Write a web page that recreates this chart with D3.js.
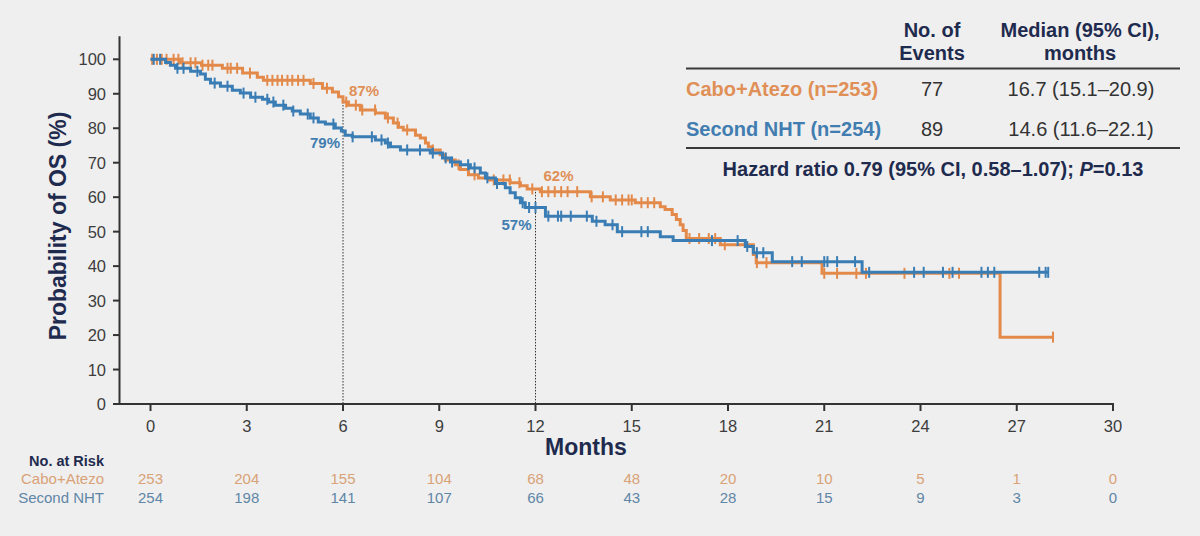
<!DOCTYPE html>
<html><head><meta charset="utf-8">
<script src="https://cdn.jsdelivr.net/npm/d3@7"></script>
<style>
body{margin:0;background:#efefef;}
svg{display:block;font-family:"Liberation Sans",Arial,sans-serif;}
</style>
</head><body>
<svg id="chart" width="1200" height="536"></svg>
<script>
// ---------- data ----------
const monthTicks = [0,3,6,9,12,15,18,21,24,27,30];
const pctTicks = [0,10,20,30,40,50,60,70,80,90,100];

const caboTime = [0,0.93,1.59,2.24,2.87,3.33,3.52,4.98,5.36,5.67,5.86,6.0,6.17,6.54,7.01,7.32,7.57,7.73,7.88,8.26,8.41,8.57,8.66,8.79,9.03,9.19,9.5,9.66,9.91,10.22,10.53,11.21,11.53,11.74,12.15,13.71,14.33,15.11,15.89,16.04,16.26,16.39,16.51,16.6,16.7,17.76,18.79,18.88,20.93,26.48,28.13];
const caboSurv = [100,99,98.3,97.4,96.0,94.8,93.9,93.0,91.6,90.5,89.1,87.6,86.7,85.3,84.4,83.0,81.5,80.3,79.5,78.0,77.2,75.7,74.6,73.7,72.3,70.8,69.4,68.0,66.5,65.6,65.0,64.2,63.3,62.4,61.6,60.1,59.2,58.4,57.2,56.4,55.0,53.5,52.0,50.3,48.0,46.2,43.4,41.0,37.9,19.4,19.4];
const caboCensor = [0.05,0.2,0.35,0.5,0.72,0.87,1.0,1.25,1.4,1.62,1.8,1.93,2.4,2.5,2.7,3.1,3.64,3.8,3.96,4.1,4.27,4.42,4.6,4.77,5.08,5.5,6.1,6.4,6.6,7.0,7.4,7.7,8.0,8.8,9.6,10.1,10.7,11.0,11.2,11.5,11.9,12.2,12.4,12.6,12.8,13.0,13.3,13.75,14.1,14.5,14.7,14.9,15.0,15.3,15.5,15.7,16.8,17.1,17.4,17.6,17.9,18.9,19.2,21.0,21.4,22.0,22.3,23.5,24.9,25.2,28.13];

const nhtTime = [0,0.47,0.62,0.78,1.25,1.56,1.71,1.87,2.18,2.55,2.8,3.12,3.49,3.68,3.89,4.21,4.42,4.67,4.98,5.23,5.45,5.76,5.95,6.07,6.29,7.01,7.32,7.48,7.79,8.72,9.1,9.35,9.66,9.97,10.28,10.44,10.75,11.06,11.21,11.37,11.53,11.68,12.31,13.77,14.17,14.55,15.89,16.29,18.54,18.79,19.38,22.18,27.98];
const nhtSurv = [100,99.1,98.3,97.4,96.5,95.7,94.2,93.1,92.2,91.0,90.2,89.0,88.4,87.6,86.7,85.8,85.0,84.1,83.0,81.8,81.2,80.1,79.2,78.0,77.5,76.6,75.7,74.6,73.7,72.8,71.4,70.2,69.4,68.5,67.0,65.6,64.0,62.7,61.3,59.8,58.4,57.0,54.5,53.0,52.0,50.0,48.5,47.4,45.7,43.9,41.3,38.2,38.2];
const nhtCensor = [0.1,0.3,0.84,1.03,1.46,2.0,2.4,2.9,3.27,3.64,3.83,4.14,4.45,4.9,5.08,5.7,6.3,6.9,7.2,7.4,8.0,8.4,8.8,9.2,9.4,9.9,10.1,10.5,10.8,11.6,11.8,12.0,12.4,12.7,12.8,13.1,13.6,13.9,14.4,14.7,15.3,15.5,17.5,18.3,18.6,18.9,19.1,20.0,20.3,21.0,21.1,21.4,21.96,22.4,23.8,24.1,24.7,25.0,25.9,26.1,26.3,27.7,27.9,27.98];

const riskCabo = [253,204,155,104,68,48,20,10,5,1,0];
const riskNht = [254,198,141,107,66,43,28,15,9,3,0];

const landmarkMonths = [6,12];
const caboLandmarkLabels = ["87%","62%"];
const nhtLandmarkLabels = ["79%","57%"];

const groupNames = ["Cabo+Atezo","Second NHT"];
const legendRows = ["Cabo+Atezo (n=253)","Second NHT (n=254)"];
const legendEvents = ["77","89"];
const legendMedians = ["16.7 (15.1\u201320.9)","14.6 (11.6\u201322.1)"];

// ---------- style ----------
const ORANGE = "#E38A4B", BLUE = "#3A7DB4";
const ORANGE_T = "#E08F57", BLUE_T = "#417DB0";
const ORANGE_R = "#D9A277", BLUE_R = "#5F86A7";
const NAVY = "#1F2B4E", AXIS = "#333333", TICKTXT = "#3d3d3d";

const svg = d3.select("#chart");
const x = d3.scaleLinear().domain([0,30]).range([150.5,1113]);
const y = d3.scaleLinear().domain([0,100]).range([404,59.3]);

function survAt(times, surv, t){
  const i = d3.bisectRight(times, t) - 1;
  return surv[Math.max(0,i)];
}

// axes lines
svg.append("line").attr("x1",119.5).attr("x2",119.5).attr("y1",y(0)+1).attr("y2",y(106.7))
  .attr("stroke",AXIS).attr("stroke-width",2);
svg.append("line").attr("x1",113).attr("x2",x(30)+1).attr("y1",y(0)).attr("y2",y(0))
  .attr("stroke",AXIS).attr("stroke-width",2);

// y ticks
const yAxisG = svg.append("g");
yAxisG.selectAll("line").data(pctTicks).join("line")
  .attr("x1",113).attr("x2",119.5).attr("y1",d=>y(d)).attr("y2",d=>y(d))
  .attr("stroke",AXIS).attr("stroke-width",2);
yAxisG.selectAll("text").data(pctTicks).join("text")
  .attr("x",106).attr("y",d=>y(d)+6).attr("text-anchor","end")
  .attr("font-size",16.5).attr("fill",TICKTXT).text(d=>d);

// x ticks
const xAxisG = svg.append("g");
xAxisG.selectAll("line").data(monthTicks).join("line")
  .attr("x1",d=>x(d)).attr("x2",d=>x(d)).attr("y1",y(0)).attr("y2",y(0)+7)
  .attr("stroke",AXIS).attr("stroke-width",2);
xAxisG.selectAll("text").data(monthTicks).join("text")
  .attr("x",d=>x(d)).attr("y",432).attr("text-anchor","middle")
  .attr("font-size",16.5).attr("fill",TICKTXT).text(d=>d);

// axis titles
svg.append("text").attr("x",586).attr("y",455).attr("text-anchor","middle")
  .attr("font-size",23).attr("font-weight","bold").attr("fill",NAVY).text("Months");
svg.append("text").attr("transform","translate(66,226) rotate(-90)").attr("text-anchor","middle")
  .attr("font-size",23).attr("font-weight","bold").attr("fill",NAVY).text("Probability of OS (%)");

// landmark dotted lines
landmarkMonths.forEach(m=>{
  const top = Math.max(survAt(caboTime,caboSurv,m), survAt(nhtTime,nhtSurv,m));
  svg.append("line").attr("x1",x(m)).attr("x2",x(m)).attr("y1",y(top)).attr("y2",y(0))
    .attr("stroke","#333").attr("stroke-width",1).attr("stroke-dasharray","1.5,1.5");
});

// curves
const line = d3.line().x(d=>x(d[0])).y(d=>y(d[1])).curve(d3.curveStepAfter);
function drawCurve(times, surv, censor, color){
  svg.append("path").datum(times.map((t,i)=>[t,surv[i]]))
    .attr("d",line).attr("fill","none").attr("stroke",color).attr("stroke-width",3)
    .attr("stroke-linejoin","miter");
  svg.append("g").selectAll("line").data(censor).join("line")
    .attr("x1",d=>x(d)).attr("x2",d=>x(d))
    .attr("y1",d=>y(survAt(times,surv,d))-5.5).attr("y2",d=>y(survAt(times,surv,d))+5.5)
    .attr("stroke",color).attr("stroke-width",2);
}
drawCurve(caboTime,caboSurv,caboCensor,ORANGE);
drawCurve(nhtTime,nhtSurv,nhtCensor,BLUE);

// landmark labels
const caboOff = [[6,-12],[8,-13]];
const nhtOff = [[-3,12],[-4,17]];
landmarkMonths.forEach((m,i)=>{
  svg.append("text").attr("x",x(m)+caboOff[i][0]).attr("y",y(survAt(caboTime,caboSurv,m))+caboOff[i][1]+5.5)
    .attr("font-size",15).attr("font-weight","bold").attr("fill",ORANGE_T).text(caboLandmarkLabels[i]);
  svg.append("text").attr("x",x(m)+nhtOff[i][0]).attr("y",y(survAt(nhtTime,nhtSurv,m))+nhtOff[i][1]+5.5)
    .attr("text-anchor","end")
    .attr("font-size",15).attr("font-weight","bold").attr("fill",BLUE_T).text(nhtLandmarkLabels[i]);
});

// risk table
svg.append("text").attr("x",104).attr("y",465.5).attr("text-anchor","end")
  .attr("font-size",14.5).attr("font-weight","bold").attr("fill",NAVY).text("No. at Risk");
[[riskCabo,ORANGE_R,483.5],[riskNht,BLUE_R,502.5]].forEach(([arr,col,yy],gi)=>{
  svg.append("text").attr("x",104).attr("y",yy).attr("text-anchor","end")
    .attr("font-size",15).attr("fill",col).text(groupNames[gi]);
  svg.append("g").selectAll("text").data(arr).join("text")
    .attr("x",(d,i)=>x(monthTicks[i])).attr("y",yy).attr("text-anchor","middle")
    .attr("font-size",15).attr("fill",col).text(d=>d);
});

// legend table
const lg = svg.append("g").attr("font-size",20);
lg.append("text").attr("x",932).attr("y",37).attr("text-anchor","middle").attr("font-weight","bold").attr("fill",NAVY).text("No. of");
lg.append("text").attr("x",932).attr("y",60).attr("text-anchor","middle").attr("font-weight","bold").attr("fill",NAVY).text("Events");
lg.append("text").attr("x",1080).attr("y",37).attr("text-anchor","middle").attr("font-weight","bold").attr("fill",NAVY).text("Median (95% CI),");
lg.append("text").attr("x",1080).attr("y",60).attr("text-anchor","middle").attr("font-weight","bold").attr("fill",NAVY).text("months");
lg.append("line").attr("x1",686).attr("x2",1180).attr("y1",68.5).attr("y2",68.5).attr("stroke","#3a3a3a").attr("stroke-width",2);
[[ORANGE_T,96],[BLUE_T,136]].forEach(([col,yy],i)=>{
  lg.append("text").attr("x",686).attr("y",yy).attr("font-weight","bold").attr("fill",col).text(legendRows[i]);
  lg.append("text").attr("x",932).attr("y",yy).attr("text-anchor","middle").attr("fill","#333").text(legendEvents[i]);
  lg.append("text").attr("x",1081).attr("y",yy).attr("text-anchor","middle").attr("fill","#333").text(legendMedians[i]);
});
lg.append("line").attr("x1",686).attr("x2",1180).attr("y1",148).attr("y2",148).attr("stroke","#3a3a3a").attr("stroke-width",2);
const hr = lg.append("text").attr("x",933).attr("y",176).attr("text-anchor","middle").attr("font-weight","bold").attr("fill",NAVY);
hr.append("tspan").text("Hazard ratio 0.79 (95% CI, 0.58\u20131.07); ");
hr.append("tspan").attr("font-style","italic").text("P");
hr.append("tspan").text("=0.13");
</script>
</body></html>
